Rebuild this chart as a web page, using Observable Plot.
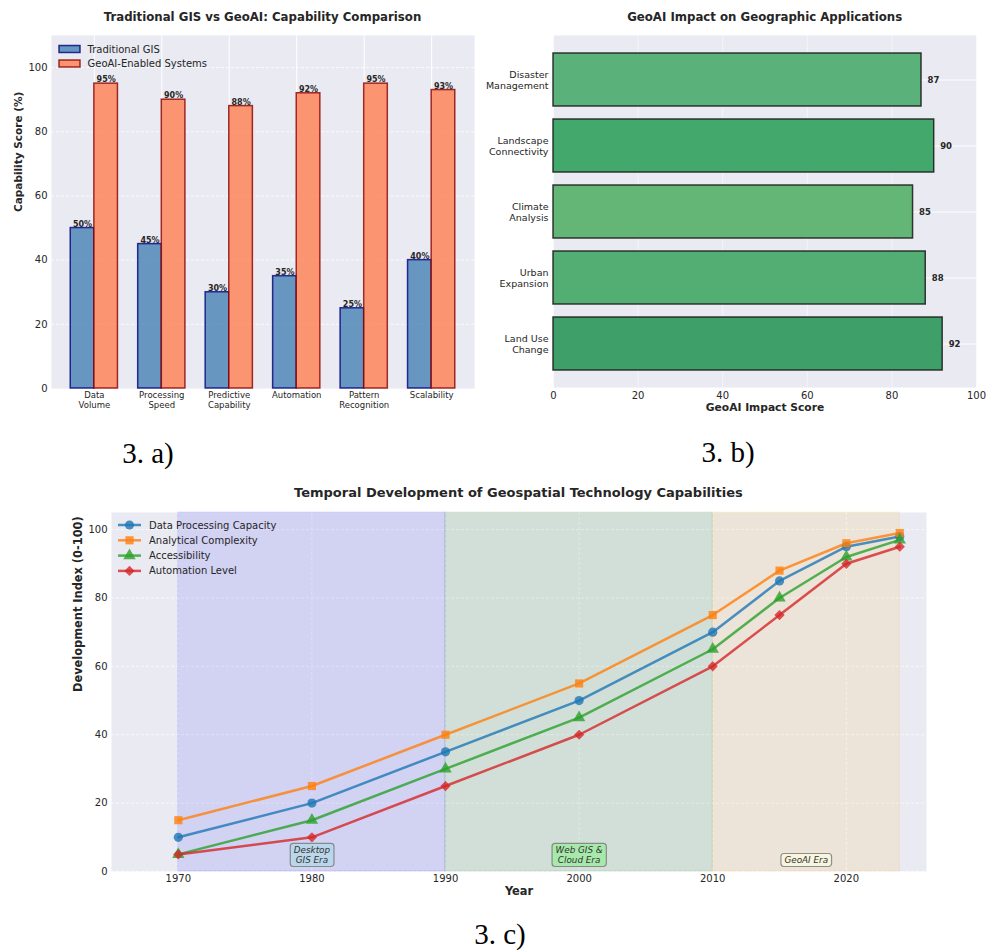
<!DOCTYPE html>
<html><head><meta charset="utf-8">
<script src="https://cdn.jsdelivr.net/npm/d3@7"></script>
<script src="https://cdn.jsdelivr.net/npm/@observablehq/plot@0.6"></script>
<style>
body{margin:0;background:#fff;}
#page{position:relative;width:986px;height:951px;overflow:hidden;font-family:"DejaVu Sans";}
.panel{position:absolute;}
#overlay{position:absolute;left:0;top:0;pointer-events:none;}
</style></head><body><div id="page"></div>
<script>
// ---------- data ----------
const capabilityCategories = ["Data\nVolume","Processing\nSpeed","Predictive\nCapability","Automation","Pattern\nRecognition","Scalability"];
const traditionalGIS = [50,45,30,35,25,40];
const geoAIEnabled = [95,90,88,92,95,93];

const applicationCategories = ["Disaster\nManagement","Landscape\nConnectivity","Climate\nAnalysis","Urban\nExpansion","Land Use\nChange"];
const impactScores = [87,90,85,88,92];

const years = [1970,1980,1990,2000,2010,2015,2020,2024];
const seriesNames = ["Data Processing Capacity","Analytical Complexity","Accessibility","Automation Level"];
const dataProcessing = [10,20,35,50,70,85,95,98];
const analyticalComplexity = [15,25,40,55,75,88,96,99];
const accessibility = [5,15,30,45,65,80,92,97];
const automationLevel = [5,10,25,40,60,75,90,95];

const eraNames = ["Desktop GIS Era","Web GIS & Cloud Era","GeoAI Era"];
const eraLabels = ["Desktop\nGIS Era","Web GIS &\nCloud Era","GeoAI Era"];
const eraStarts = [1970,1990,2010];
const eraEnds = [1990,2010,2024];
const eraLabelYears = [1980,2000,2017];

// ---------- styles ----------
const greenPalette = ["#5ab17a","#43a86c","#64b677","#52ae73","#3f9f69"];
const seriesColors = ["#1f77b4","#ff7f0e","#2ca02c","#d62728"];
const seriesSymbols = ["circle","square","triangle","diamond2"];
const eraColors = ["blue","green","orange"];
const eraBoxColors = ["lightblue","lightgreen","lightyellow"];
const BG = "#EAEAF2";
const baseStyle = {fontFamily:"DejaVu Sans", fontSize:"10px", color:"#262626", background:"transparent", overflow:"visible"};

const page = document.getElementById("page");
function place(el, left, top){ const d=document.createElement("div"); d.className="panel"; d.style.left=left+"px"; d.style.top=top+"px"; d.appendChild(el); page.appendChild(d); return el; }

// ---------- chart a ----------
const BW = 0.35;
const capRows = capabilityCategories.map((c,i)=>({i, cat:c, trad:traditionalGIS[i], geo:geoAIEnabled[i]}));
const chartA = Plot.plot({
  width:490, height:430, marginLeft:51, marginRight:16, marginTop:35, marginBottom:42,
  style: baseStyle,
  x:{domain:[-0.635,5.635]},
  y:{domain:[0,110]},
  marks:[
    Plot.frame({fill:BG, stroke:"none"}),
    Plot.gridY({ticks:d3.range(20,101,20), stroke:"white", strokeOpacity:0.8, strokeDasharray:"3,2"}),
    Plot.gridX({ticks:d3.range(capabilityCategories.length), stroke:"white", strokeOpacity:1}),
    Plot.rectY(capRows, {x1:d=>d.i-BW, x2:d=>d.i, y:"trad", fill:"steelblue", fillOpacity:0.8, stroke:"navy", strokeOpacity:0.8, strokeWidth:1.5}),
    Plot.rectY(capRows, {x1:d=>d.i, x2:d=>d.i+BW, y:"geo", fill:"coral", fillOpacity:0.8, stroke:"darkred", strokeOpacity:0.8, strokeWidth:1.5}),
    Plot.text(capRows, {x:d=>d.i-BW/2, y:"trad", text:d=>d.trad+"%", dy:-1.5, lineAnchor:"bottom", fontSize:8, fontWeight:"bold", fill:"#262626"}),
    Plot.text(capRows, {x:d=>d.i+BW/2, y:"geo", text:d=>d.geo+"%", dy:-1.5, lineAnchor:"bottom", fontSize:8, fontWeight:"bold", fill:"#262626"}),
    Plot.axisX({ticks:d3.range(capabilityCategories.length), tickFormat:i=>capabilityCategories[i], tickSize:0, tickPadding:3, fontSize:8.5, lineHeight:1.15, label:null}),
    Plot.axisY({ticks:d3.range(0,101,20), tickSize:0, tickPadding:4, fontSize:10, label:null}),
    Plot.text(["Capability Score (%)"], {frameAnchor:"left", rotate:-90, dx:-32.5, fontWeight:"bold", fontSize:10.5, fill:"#262626"})
  ]
});
place(chartA, 0, 0);

// ---------- chart b ----------
const appRows = applicationCategories.map((c,i)=>({cat:c, score:impactScores[i]}));
const chartB = Plot.plot({
  width:496, height:430, marginLeft:63, marginRight:10, marginTop:35, marginBottom:43,
  style: baseStyle,
  x:{domain:[0,100]},
  y:{domain:applicationCategories, paddingInner:0.2, paddingOuter:0.24},
  color:{domain:applicationCategories, range:greenPalette},
  marks:[
    Plot.frame({fill:BG, stroke:"none"}),
    Plot.gridX({ticks:d3.range(0,101,20), stroke:"white", strokeOpacity:0.5}),
    Plot.gridY({stroke:"white", strokeOpacity:1}),
    Plot.barX(appRows, {x:"score", y:"cat", fill:"cat", stroke:"#1a1a1a", strokeOpacity:0.85, strokeWidth:1.5}),
    Plot.text(appRows, {x:"score", y:"cat", text:d=>String(d.score), dx:6, textAnchor:"start", fontSize:8.5, fontWeight:"bold", fill:"#262626"}),
    Plot.axisY({tickSize:0, tickPadding:5, fontSize:9.5, lineHeight:1.15, label:null}),
    Plot.axisX({ticks:d3.range(0,101,20), tickSize:0, tickPadding:4, fontSize:10, label:null}),
    Plot.text(["GeoAI Impact Score"], {frameAnchor:"bottom", dy:23, fontWeight:"bold", fontSize:10.7, fill:"#262626"})
  ]
});
place(chartB, 490, 0);

// ---------- chart c ----------
const seriesValues = [dataProcessing, analyticalComplexity, accessibility, automationLevel];
const trendRows = seriesNames.flatMap((s,k)=>years.map((y,j)=>({series:s, year:y, value:seriesValues[k][j]})));
const eraRows = eraNames.map((n,i)=>({name:n, start:eraStarts[i], end:eraEnds[i], label:eraLabels[i], labelYear:eraLabelYears[i]}));
const chartC = Plot.plot({
  width:986, height:440, marginLeft:111, marginRight:60, marginTop:42, marginBottom:39,
  style: baseStyle,
  x:{domain:[1965,2026]},
  y:{domain:[0,105]},
  color:{domain:[...seriesNames, ...eraNames], range:[...seriesColors, ...eraColors]},
  symbol:{domain:seriesNames, range:seriesSymbols},
  marks:[
    Plot.frame({fill:BG, stroke:"none"}),
    Plot.gridX({ticks:d3.range(1970,2021,10), stroke:"white", strokeOpacity:0.7, strokeDasharray:"3,2"}),
    Plot.gridY({ticks:d3.range(0,101,20), stroke:"white", strokeOpacity:0.7, strokeDasharray:"3,2"}),
    Plot.rect(eraRows, {x1:"start", x2:"end", fill:"name", fillOpacity:0.1, stroke:"name", strokeOpacity:0.12}),
    Plot.line(trendRows, {x:"year", y:"value", z:"series", stroke:"series", strokeWidth:2.5, strokeOpacity:0.8}),
    Plot.dot(trendRows, {x:"year", y:"value", fill:"series", symbol:"series", r:4.6, fillOpacity:0.8, stroke:"none"}),
    Plot.text(eraRows, {x:"labelYear", text:"label", frameAnchor:"bottom", dy:-8.5, lineAnchor:"bottom", fontStyle:"italic", fontSize:8.8, lineHeight:1.15, fill:"#333", ariaDescription:"era-labels"}),
    Plot.axisX({ticks:d3.range(1970,2021,10), tickFormat:d3.format("d"), tickSize:0, tickPadding:3, fontSize:10, label:null}),
    Plot.axisY({ticks:d3.range(0,101,20), tickSize:0, tickPadding:4, fontSize:10, label:null}),
    Plot.text(["Development Index (0-100)"], {frameAnchor:"left", rotate:-90, dx:-33, fontWeight:"bold", fontSize:11.4, fill:"#262626"}),
    Plot.text(["Year"], {frameAnchor:"bottom", dy:23.6, fontWeight:"bold", fontSize:11.4, fill:"#262626"})
  ]
});
place(chartC, 0, 470);

// era label boxes (drawn behind each era label text)
const NS = "http://www.w3.org/2000/svg";
let eraTexts = chartC.querySelectorAll('g[aria-description="era-labels"] text');
if (!eraTexts.length) {
  eraTexts = Array.from(chartC.querySelectorAll('g[aria-label="text"] text')).filter(t => /Era/.test(t.textContent));
}
eraTexts.forEach((t,i)=>{
  const b = t.getBBox();
  const r = document.createElementNS(NS,"rect");
  r.setAttribute("x", b.x-3.5); r.setAttribute("y", b.y-1.5);
  r.setAttribute("width", b.width+7); r.setAttribute("height", b.height+3);
  r.setAttribute("rx", 3);
  r.setAttribute("fill", eraBoxColors[i]); r.setAttribute("fill-opacity", 0.65);
  r.setAttribute("stroke", "#777"); r.setAttribute("stroke-opacity", 0.8); r.setAttribute("stroke-width", 1.2);
  const tr = t.getAttribute("transform"); if (tr) r.setAttribute("transform", tr);
  t.parentNode.insertBefore(r, t);
});

// ---------- overlay: titles, legends, captions ----------
const ov = d3.select(page).append("svg").attr("id","overlay").attr("width",986).attr("height",951)
  .style("font-family","DejaVu Sans");
const titles = [
  {text:"Traditional GIS vs GeoAI: Capability Comparison", x:262.5, y:21, size:11.75},
  {text:"GeoAI Impact on Geographic Applications", x:764.7, y:21, size:11.75},
  {text:"Temporal Development of Geospatial Technology Capabilities", x:518.4, y:496.5, size:13}
];
titles.forEach(t=>ov.append("text").attr("x",t.x).attr("y",t.y).attr("text-anchor","middle")
  .attr("font-weight","bold").attr("font-size",t.size).attr("fill","#262626").text(t.text));

const captions = [{text:"3. a)", x:148, y:463},{text:"3. b)", x:728, y:462},{text:"3. c)", x:500, y:944}];
captions.forEach(c=>ov.append("text").attr("x",c.x).attr("y",c.y).attr("text-anchor","middle")
  .attr("font-family","Liberation Serif").attr("font-size",29).attr("fill","#000").text(c.text));

// legend a
const legA = [{name:"Traditional GIS", fill:"steelblue", stroke:"navy"},{name:"GeoAI-Enabled Systems", fill:"coral", stroke:"darkred"}];
legA.forEach((l,i)=>{
  const cy = 49 + i*14.5;
  ov.append("rect").attr("x",59).attr("y",cy-3.5).attr("width",21).attr("height",7)
    .attr("fill",l.fill).attr("fill-opacity",0.8).attr("stroke",l.stroke).attr("stroke-opacity",0.8).attr("stroke-width",1.5);
  ov.append("text").attr("x",87.5).attr("y",cy).attr("dy","0.35em").attr("font-size",10).attr("fill","#262626").text(l.name);
});

// legend c
seriesNames.forEach((s,i)=>{
  const cy = 525 + i*15.3;
  ov.append("line").attr("x1",118).attr("x2",141).attr("y1",cy).attr("y2",cy)
    .attr("stroke",seriesColors[i]).attr("stroke-width",2.5).attr("stroke-opacity",0.8);
  const sym = {circle:d3.symbolCircle, square:d3.symbolSquare, triangle:d3.symbolTriangle, diamond2:d3.symbolDiamond2}[seriesSymbols[i]];
  ov.append("path").attr("d", d3.symbol(sym, Math.PI*4.6*4.6)()).attr("transform",`translate(129.5,${cy})`)
    .attr("fill",seriesColors[i]).attr("fill-opacity",0.8);
  ov.append("text").attr("x",149).attr("y",cy).attr("dy","0.35em").attr("font-size",10).attr("fill","#262626").text(s);
});
</script></body></html>
